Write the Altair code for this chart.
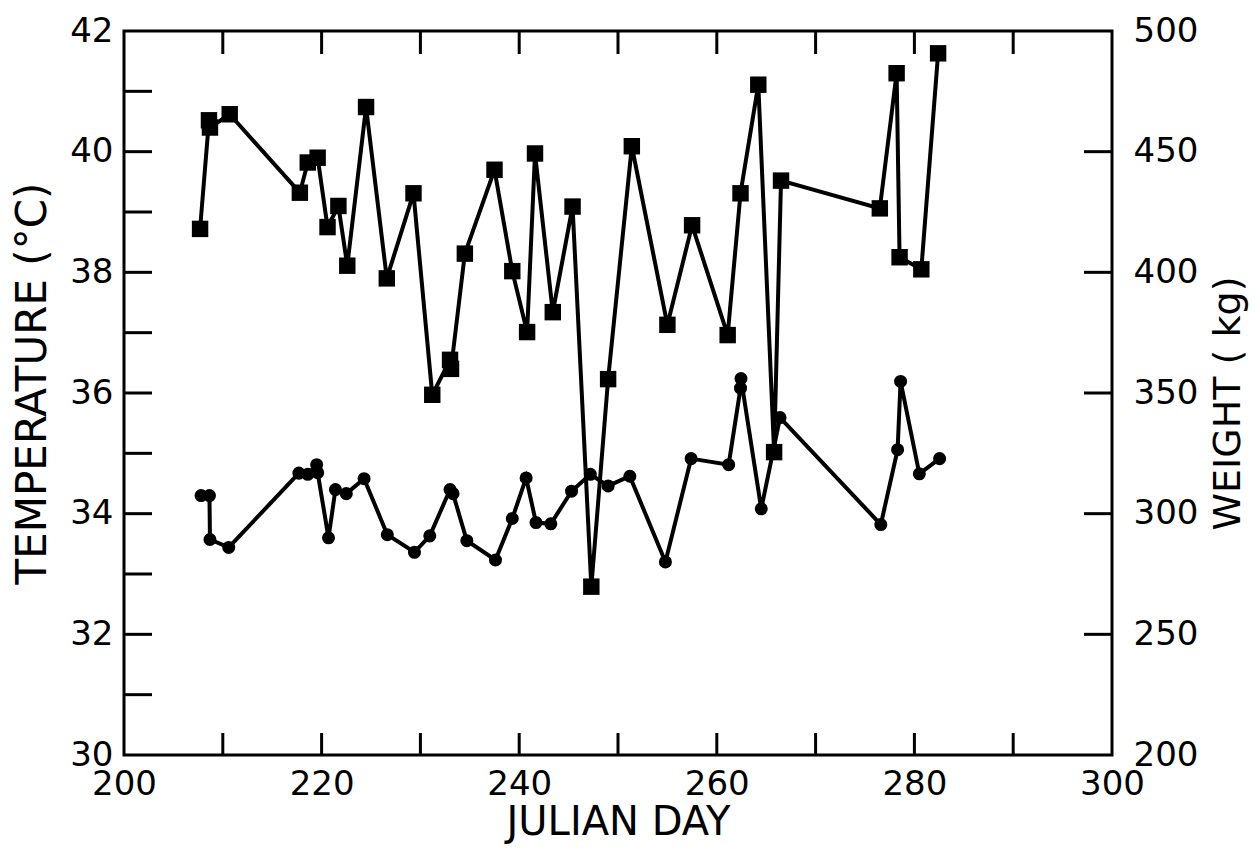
import altair as alt
import pandas as pd

# Squares (left axis, temperature °C)
sq_day = [207.7, 208.6, 208.7, 210.7, 217.8, 218.6, 219.6, 220.6, 221.7, 222.6,
          224.5, 226.6, 229.3, 231.2, 233.0, 233.1, 234.5, 237.5, 239.3, 240.8,
          241.6, 243.4, 245.4, 247.3, 249.0, 251.4, 255.0, 257.5, 261.1, 262.4,
          264.2, 265.8, 266.5, 276.5, 278.2, 278.5, 280.7, 282.4]
sq_temp = [38.72, 40.52, 40.40, 40.62, 39.32, 39.82, 39.90, 38.75, 39.10, 38.11,
           40.74, 37.90, 39.31, 35.97, 36.55, 36.40, 38.31, 39.70, 38.02, 37.01,
           39.97, 37.34, 39.09, 32.79, 36.23, 40.09, 37.13, 38.78, 36.96, 39.31,
           41.11, 35.02, 39.52, 39.06, 41.30, 38.25, 38.05, 41.63]

# Circles (right axis, weight kg)
ci_day = [207.8, 208.65, 208.7, 210.6, 217.7, 218.6, 219.5, 219.6, 220.7, 221.4,
          222.5, 224.3, 226.65, 229.4, 230.95, 233.0, 233.3, 234.7, 237.6, 239.3,
          240.7, 241.7, 243.2, 245.3, 247.2, 249.0, 251.2, 254.8, 257.4, 261.2,
          262.4, 262.45, 264.5, 266.4, 276.6, 278.3, 278.6, 280.5, 282.55]
ci_weight = [307.5, 307.5, 289.3, 286.0, 316.8, 316.3, 320.3, 317.0, 290.0, 310.0,
             308.3, 314.5, 291.3, 284.0, 290.8, 310.0, 308.3, 288.8, 280.8, 298.0,
             314.8, 296.3, 295.8, 309.3, 316.3, 311.5, 315.5, 280.0, 322.8, 320.3,
             352.0, 356.0, 302.0, 339.8, 295.5, 326.5, 354.8, 316.5, 322.8]

x_tick_values = [210, 220, 230, 240, 250, 260, 270, 280, 290]
x_label_values = [200, 220, 240, 260, 280, 300]
left_tick_values = [31, 32, 33, 34, 35, 36, 37, 38, 39, 40, 41]
left_label_values = [30, 32, 34, 36, 38, 40, 42]
right_tick_values = [250, 300, 350, 400, 450]
right_label_values = [200, 250, 300, 350, 400, 450, 500]

W, H = 988, 724
FONT = "DejaVu Sans"
LBL = 34

sq = pd.DataFrame({"day": sq_day, "temp": sq_temp, "i": list(range(len(sq_day)))})
ci = pd.DataFrame({"day": ci_day, "weight": ci_weight, "i": list(range(len(ci_day)))})

xs = alt.Scale(domain=[200, 300], nice=False, zero=False)
yl = alt.Scale(domain=[30, 42], nice=False, zero=False)
yr = alt.Scale(domain=[200, 500], nice=False, zero=False)

x_axis = alt.Axis(values=x_label_values, ticks=False, domain=False, grid=False,
                  labelFontSize=LBL, labelPadding=12, labelFlush=False,
                  title="JULIAN DAY", titleFontSize=40, titleBaseline="alphabetic",
                  titleY=79)
yl_axis = alt.Axis(orient="left", values=left_label_values, ticks=False, domain=False,
                   grid=False, labelFontSize=LBL, labelPadding=11, labelFlush=False,
                   title="TEMPERATURE (°C)", titleFontSize=42, titleBaseline="alphabetic",
                   titleX=-79, titleY=352)
yr_axis = alt.Axis(orient="right", values=right_label_values, ticks=False, domain=False,
                   grid=False, labelFontSize=LBL, labelPadding=21, labelFlush=False,
                   title="WEIGHT ( kg)", titleFontSize=38, titlePadding=12,
                   titleAngle=270, titleBaseline="top", titleY=372)

X = alt.X("day:Q", scale=xs, axis=x_axis)

sq_line = alt.Chart(sq).mark_line(color="black", strokeWidth=4).encode(
    x=X,
    y=alt.Y("temp:Q", scale=yl, axis=yl_axis),
    order="i:Q",
)
sq_pts = alt.Chart(sq).mark_point(shape="square", filled=True, color="black",
                                  size=270, opacity=1).encode(
    x=X,
    y=alt.Y("temp:Q", scale=yl, axis=yl_axis),
)
left_ticks = alt.Chart(pd.DataFrame({"v": left_tick_values})).mark_rule(
    color="black", strokeWidth=3).encode(
    y=alt.Y("v:Q", scale=yl, axis=yl_axis),
    x=alt.value(0), x2=alt.value(28),
)
bottom_ticks = alt.Chart(pd.DataFrame({"v": x_tick_values})).mark_rule(
    color="black", strokeWidth=3).encode(
    x=alt.X("v:Q", scale=xs, axis=x_axis),
    y=alt.value(H), y2=alt.value(H - 22),
)
top_ticks = alt.Chart(pd.DataFrame({"v": x_tick_values})).mark_rule(
    color="black", strokeWidth=3).encode(
    x=alt.X("v:Q", scale=xs, axis=x_axis),
    y=alt.value(0), y2=alt.value(23),
)

left = alt.layer(sq_line, sq_pts, left_ticks, bottom_ticks, top_ticks)

ci_line = alt.Chart(ci).mark_line(color="black", strokeWidth=4).encode(
    x=X,
    y=alt.Y("weight:Q", scale=yr, axis=yr_axis),
    order="i:Q",
)
ci_pts = alt.Chart(ci).mark_point(shape="circle", filled=True, color="black",
                                  size=170, opacity=1).encode(
    x=X,
    y=alt.Y("weight:Q", scale=yr, axis=yr_axis),
)
right_ticks = alt.Chart(pd.DataFrame({"v": right_tick_values})).mark_rule(
    color="black", strokeWidth=3).encode(
    y=alt.Y("v:Q", scale=yr, axis=yr_axis),
    x=alt.value(W - 28), x2=alt.value(W),
)
right = alt.layer(ci_line, ci_pts, right_ticks)

chart = alt.layer(left, right).resolve_scale(y="independent").properties(
    width=W, height=H,
    autosize=alt.AutoSizeParams(type="none"),
    padding={"left": 116, "top": 23, "right": 140, "bottom": 89},
    background="white",
).configure_view(stroke="black", strokeWidth=3).configure_axis(
    labelFont=FONT, titleFont=FONT, labelColor="black", titleColor="black",
    titleFontWeight="normal",
)

chart.save("out.html", embed_options={"renderer": "svg", "actions": False})
